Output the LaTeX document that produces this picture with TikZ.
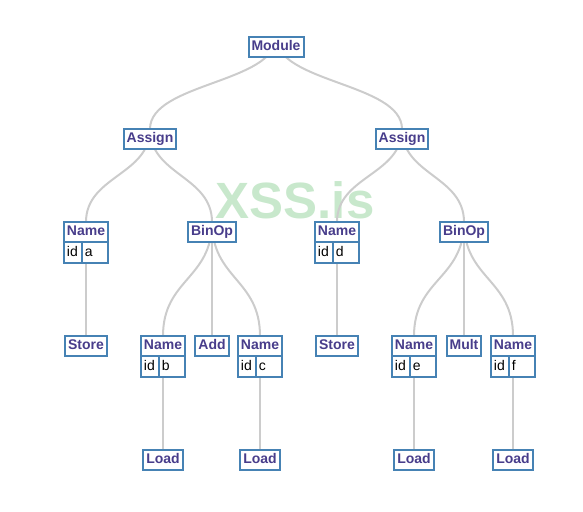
\documentclass[tikz,border=0pt]{standalone}
\usepackage{fontspec}
\setmainfont{Liberation Sans}
\usepackage{tikz}
\usetikzlibrary{backgrounds}
\definecolor{steel}{RGB}{70,130,180}
\definecolor{slate}{RGB}{72,61,139}
\definecolor{edgegray}{RGB}{204,204,204}
\definecolor{wmgreen}{RGB}{200,232,204}
\tikzset{
  box/.style={draw=steel, fill=white, line width=2pt, outer sep=0pt, inner xsep=3pt, inner ysep=0pt, minimum height=20pt, text height=10pt, text depth=3pt, font=\fontsize{14}{16}\selectfont\bfseries, text=slate},
  namebox/.style={box, minimum width=44pt},
  cell/.style={draw=steel, fill=white, line width=2pt, outer sep=0pt, inner xsep=3pt, inner ysep=0pt, minimum height=21pt, text height=10pt, text depth=3pt, font=\fontsize{14}{16}\selectfont, align=left, anchor=north west},
  idcell/.style={cell, minimum width=18pt, text width=12pt},
  valcell/.style={cell, minimum width=26pt, text width=20pt},
  link/.style={draw=edgegray, line width=2pt, out=-90, in=90, out distance=#1, in distance=#1},
  watermark/.style={text=wmgreen, inner sep=0pt, font=\fontsize{51}{51}\selectfont\bfseries}
}

\begin{document}
\begin{tikzpicture}[x=1pt,y=-1pt]
\useasboundingbox (0,0) rectangle (583,511);

\node[box] (mod) at (276,47) {Module};

\node[box] (asl) at (150,139) {Assign};
\node[box] (asr) at (402,139) {Assign};

\node[namebox] (na) at (86,232) {Name};
\node[idcell] (na-id) at (na.south west) {id};
\node[valcell] (na-v) at (na-id.north east) {a};
\node[box] (bl) at (212,232) {BinOp};
\node[namebox] (nd) at (337,232) {Name};
\node[idcell] (nd-id) at (nd.south west) {id};
\node[valcell] (nd-v) at (nd-id.north east) {d};
\node[box] (br) at (464,232) {BinOp};

\node[box] (stl) at (86,346) {Store};
\node[namebox] (nb) at (163,346) {Name};
\node[idcell] (nb-id) at (nb.south west) {id};
\node[valcell] (nb-v) at (nb-id.north east) {b};
\node[box] (add) at (212,346) {Add};
\node[namebox] (nc) at (260,346) {Name};
\node[idcell] (nc-id) at (nc.south west) {id};
\node[valcell] (nc-v) at (nc-id.north east) {c};
\node[box] (str) at (337,346) {Store};
\node[namebox] (ne) at (414,346) {Name};
\node[idcell] (ne-id) at (ne.south west) {id};
\node[valcell] (ne-v) at (ne-id.north east) {e};
\node[box] (mul) at (464,346) {Mult};
\node[namebox] (nf) at (513,346) {Name};
\node[idcell] (nf-id) at (nf.south west) {id};
\node[valcell] (nf-v) at (nf-id.north east) {f};

\node[box] (ldb) at (163,460) {Load};
\node[box] (ldc) at (260,460) {Load};
\node[box] (lde) at (414,460) {Load};
\node[box] (ldf) at (513,460) {Load};

\begin{scope}[on background layer]
\node[watermark] (wm) at (295,200) {XSS.is};
\draw[link=46pt] (mod.north) to (asl.north);
\draw[link=46pt] (mod.north) to (asr.north);
\draw[link=46pt] (asl.north) to (na.north);
\draw[link=46pt] (asl.north) to (bl.north);
\draw[link=46pt] (asr.north) to (nd.north);
\draw[link=46pt] (asr.north) to (br.north);
\draw[link=57pt] (na.north) to (stl.north);
\draw[link=57pt] (bl.north) to (nb.north);
\draw[link=57pt] (bl.north) to (add.north);
\draw[link=57pt] (bl.north) to (nc.north);
\draw[link=57pt] (nd.north) to (str.north);
\draw[link=57pt] (br.north) to (ne.north);
\draw[link=57pt] (br.north) to (mul.north);
\draw[link=57pt] (br.north) to (nf.north);
\draw[link=57pt] (nb.north) to (ldb.north);
\draw[link=57pt] (nc.north) to (ldc.north);
\draw[link=57pt] (ne.north) to (lde.north);
\draw[link=57pt] (nf.north) to (ldf.north);
\end{scope}
\end{tikzpicture}
\end{document}
